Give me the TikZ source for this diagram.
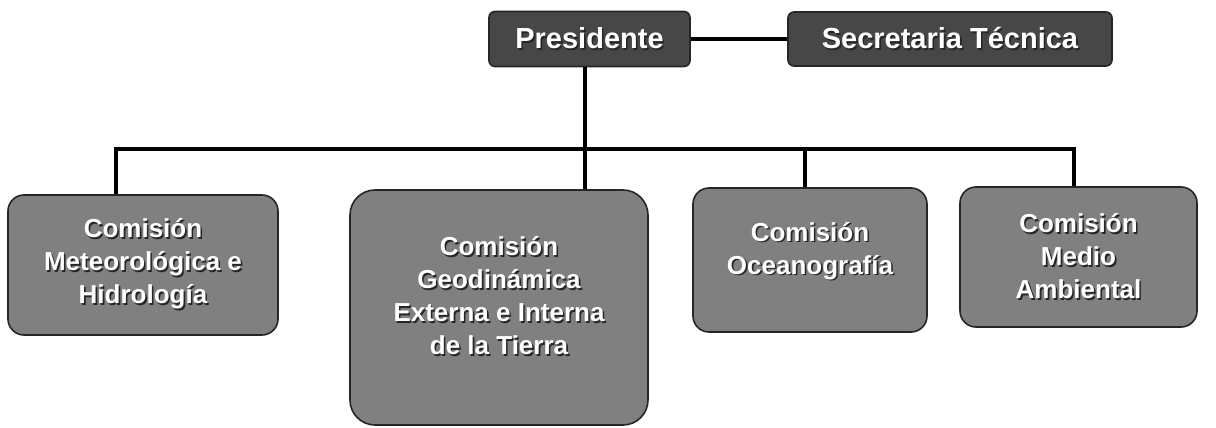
\documentclass[tikz,border=0pt]{standalone}
\usepackage{fontspec}
\setmainfont{Liberation Sans}
\newcommand\sombra[1]{\leavevmode\rlap{\kern1.6pt\raisebox{-1.6pt}{\color{black!85}#1}}#1}

\begin{document}
\begin{tikzpicture}[x=1pt,y=-1pt,thick]
\tikzset{cargo/.style={draw=black!85, line width=1.6pt, text=white, align=center,
font=\bfseries\fontsize{29}{33}\selectfont, inner sep=0pt},
directivo/.style={cargo, fill=black!72, rounded corners=6pt},
comision/.style={cargo, fill=black!50, rounded corners=16pt,
font=\bfseries\fontsize{26}{33}\selectfont},
conn/.style={line width=4.5pt, black},
}
\useasboundingbox (0,0) rectangle (1216,428);

\node[directivo, minimum width=201pt, minimum height=55pt] (pres) at (589.5,39) {\sombra{Presidente}};
\node[directivo, minimum width=324pt, minimum height=54pt] (sec) at (950,39) {\sombra{Secretaria Técnica}};

\node[comision, minimum width=270pt, minimum height=140pt] (c1) at (143,265)
{\sombra{Comisión}\\\sombra{Meteorológica e}\\\sombra{Hidrología}};
\node[comision, minimum width=298pt, minimum height=235pt, rounded corners=25pt, text depth=24pt] (c2) at (499,307.5)
{\sombra{Comisión}\\\sombra{Geodinámica}\\\sombra{Externa e Interna}\\\sombra{de la Tierra}};
\node[comision, minimum width=234pt, minimum height=144pt, text depth=24pt] (c3) at (810,260)
{\sombra{Comisión}\\\sombra{Oceanografía}};
\node[comision, minimum width=237pt, minimum height=140pt] (c4) at (1078.5,257)
{\sombra{Comisión}\\\sombra{Medio}\\\sombra{Ambiental}};

\coordinate (tp) at ([xshift=-4.5pt]pres.south);
\coordinate (bus) at (585,149);
\coordinate (t1) at ([xshift=-27pt]c1.north);
\coordinate (t2) at ([xshift=86pt]c2.north);
\coordinate (t3) at ([xshift=-5pt]c3.north);
\coordinate (t4) at ([xshift=-4.5pt]c4.north);

\draw[conn] (pres.east) -- (pres.east -| sec.west);
\draw[conn] (tp) -- (bus);
\draw[conn] (t1) |- (bus -| t4) -- (t4);
\draw[conn] (t2) -- (t2 |- bus);
\draw[conn] (t3) -- (t3 |- bus);

\end{tikzpicture}
\end{document}
